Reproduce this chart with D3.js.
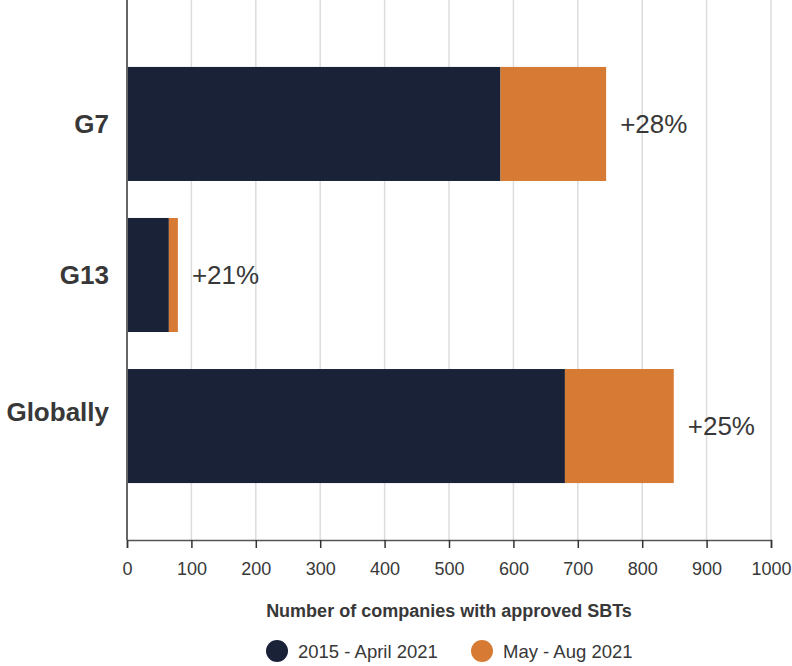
<!DOCTYPE html>
<html>
<head>
<meta charset="utf-8">
<script src="https://cdn.jsdelivr.net/npm/d3@7"></script>
<style>
  body { margin: 0; background: #fff; }
  svg { font-family: "Liberation Sans", Arial, sans-serif; }
</style>
</head>
<body>
<svg id="chart" width="792" height="666"></svg>
<script>
// data
var categories = ["G7", "G13", "Globally"];
var before = [580, 65, 680];      // 2015 - April 2021
var recent = [164, 14, 169];      // May - Aug 2021
var growthLabels = ["+28%", "+21%", "+25%"];
var xTicks = [0, 100, 200, 300, 400, 500, 600, 700, 800, 900, 1000];
var seriesNames = ["2015 - April 2021", "May - Aug 2021"];
var colors = ["#1a2238", "#d77a33"];

var svg = d3.select("#chart"),
  left = 127,
  right = 771,
  top = 5,
  bottom = 540;

var x = d3.scaleLinear().domain([0, 1000]).range([left, right]);
var y = d3.scaleBand()
  .domain(categories)
  .range([10, bottom])
  .paddingInner(0.245)
  .paddingOuter(0.377);

// gridlines
svg.append("g")
  .selectAll("line")
  .data(xTicks.slice(1))
  .enter()
  .append("line")
  .attr("x1", d => x(d))
  .attr("x2", d => x(d))
  .attr("y1", top)
  .attr("y2", bottom)
  .attr("stroke", "#dcdcdc")
  .attr("stroke-width", 1.5);

// bars
var rows = categories.map(function (c, i) {
  return { cat: c, a: before[i], b: recent[i], label: growthLabels[i] };
});

var g = svg.append("g");
g.selectAll(".bar-a")
  .data(rows)
  .enter()
  .append("rect")
  .attr("x", x(0))
  .attr("y", d => y(d.cat))
  .attr("width", d => x(d.a) - x(0))
  .attr("height", y.bandwidth())
  .attr("fill", colors[0]);

g.selectAll(".bar-b")
  .data(rows)
  .enter()
  .append("rect")
  .attr("x", d => x(d.a))
  .attr("y", d => y(d.cat))
  .attr("width", d => x(d.a + d.b) - x(d.a))
  .attr("height", y.bandwidth())
  .attr("fill", colors[1]);

g.selectAll(".growth")
  .data(rows)
  .enter()
  .append("text")
  .attr("x", d => x(d.a + d.b) + 14)
  .attr("y", d => y(d.cat) + y.bandwidth() / 2)
  .attr("dy", "0.36em")
  .attr("font-size", "26px")
  .attr("fill", "#383838")
  .text(d => d.label);

// category labels
svg.append("g")
  .selectAll("text")
  .data(rows)
  .enter()
  .append("text")
  .attr("x", left - 18)
  .attr("y", (d, i) => y(d.cat) + y.bandwidth() / 2 - (i == 2 ? 14 : 0))
  .attr("dy", "0.36em")
  .attr("text-anchor", "end")
  .attr("font-size", "26px")
  .attr("font-weight", "bold")
  .attr("fill", "#383838")
  .text(d => d.cat);

// y axis line
svg.append("line")
  .attr("x1", left)
  .attr("x2", left)
  .attr("y1", top)
  .attr("y2", bottom)
  .attr("stroke", "#666")
  .attr("stroke-width", 2);

// x axis
var xAxis = svg.append("g")
  .attr("transform", "translate(0," + bottom + ")")
  .call(d3.axisBottom(x).tickValues(xTicks).tickFormat(d3.format("d"))
    .tickSize(8).tickSizeOuter(8).tickPadding(14));
xAxis.select(".domain").attr("stroke", "#555").attr("stroke-width", 1.5);
xAxis.selectAll(".tick line").attr("stroke", "#333").attr("stroke-width", 1.5);
xAxis.selectAll(".tick text")
  .attr("font-size", "18px")
  .attr("font-family", "Liberation Sans, Arial, sans-serif")
  .attr("fill", "#383838");

// axis title
svg.append("text")
  .attr("x", (left + right) / 2 + 0)
  .attr("y", 617)
  .attr("text-anchor", "middle")
  .attr("font-size", "18px")
  .attr("font-weight", "bold")
  .attr("fill", "#383838")
  .text("Number of companies with approved SBTs");

// legend
var legend = svg.append("g").attr("transform", "translate(277,651)");
var items = legend.selectAll("g")
  .data(seriesNames)
  .enter()
  .append("g")
  .attr("transform", (d, i) => "translate(" + i * 205 + ",0)");
items.append("circle")
  .attr("r", 11)
  .attr("fill", (d, i) => colors[i]);
items.append("text")
  .attr("x", 21)
  .attr("dy", "0.36em")
  .attr("font-size", "18.5px")
  .attr("fill", "#383838")
  .text(d => d);
</script>
</body>
</html>
